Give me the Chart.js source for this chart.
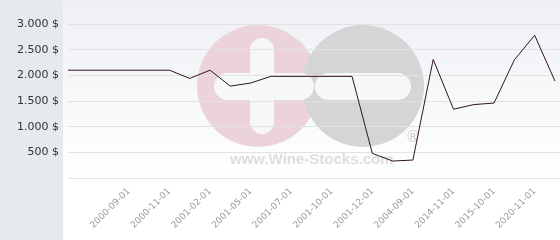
<!DOCTYPE html>
<html>
<head>
<meta charset="utf-8">
<script src="https://cdn.jsdelivr.net/npm/chart.js@4"></script>
<style>
  html, body { margin: 0; padding: 0; background: #fff; }
  #wrap { width: 560px; height: 240px; }
</style>
</head>
<body>
<div id="wrap"><canvas id="myChart" width="560" height="240"></canvas></div>
<script>
// dates shown on the x axis (only every other point carries a label)
const dates = [
  "", "", "", "2000-09-01", "", "2000-11-01", "", "2001-02-01", "", "2001-05-01",
  "", "2001-07-01", "", "2001-10-01", "", "2001-12-01", "", "2004-09-01", "", "2014-11-01",
  "", "2015-10-01", "", "2020-11-01", ""
];
const prices = [
  2100, 2100, 2100, 2100, 2100, 2100, 1940, 2100, 1790, 1850,
  1980, 1980, 1980, 1980, 1980, 480, 330, 350, 2310, 1340,
  1430, 1460, 2300, 2780, 1890
];
const yTicks = [0, 500, 1000, 1500, 2000, 2500, 3000];

const fmt = (v) => {
  if (v === 0) return "";
  const s = String(v);
  return (s.length > 3 ? s.slice(0, -3) + "." + s.slice(-3) : s) + " $";
};

const background = {
  id: "background",
  beforeDraw(chart) {
    const { ctx, width, height, chartArea } = chart;
    ctx.save();
    const g = ctx.createLinearGradient(0, 0, 0, chartArea.bottom);
    g.addColorStop(0, "#eef0f4");
    g.addColorStop(1, "#ffffff");
    ctx.fillStyle = g;
    ctx.fillRect(0, 0, width, height);
    ctx.fillStyle = "#e6eaed";
    ctx.fillRect(0, 0, 63, height);

    // watermark
    const cy = 86;
    ctx.fillStyle = "#ebd3d9";
    ctx.beginPath(); ctx.arc(258, cy, 61, 0, Math.PI * 2); ctx.fill();
    ctx.fillStyle = "#d5d5d7";
    ctx.beginPath(); ctx.arc(363, cy, 61, 0, Math.PI * 2); ctx.fill();
    ctx.fillStyle = "#f6f7f9";
    const bar = (x, y, w, h) => {
      const r = Math.min(w, h) / 2;
      ctx.beginPath();
      ctx.roundRect(x, y, w, h, r);
      ctx.fill();
    };
    bar(214, cy - 13, 100, 27);
    bar(250, 38, 24, 96);
    bar(315, cy - 13, 96, 27);
    ctx.fillStyle = "#dedede";
    ctx.font = "bold 15px 'Liberation Sans', Arial, sans-serif";
    ctx.textBaseline = "alphabetic";
    ctx.textAlign = "left";
    ctx.fillText("www.Wine-Stocks.com", 230, 164);
    ctx.fillStyle = "#d0d0d0";
    ctx.font = "15px 'DejaVu Sans', sans-serif";
    ctx.textAlign = "center";
    ctx.textBaseline = "middle";
    ctx.fillText("\u00ae", 413, 138);
    ctx.restore();
  }
};

const myChartUi = document.querySelector("#myChart");
const chart = new Chart(myChartUi, {
  type: "line",
  data: {
    datasets: [
      {
        data: prices.map((p, i) => ({ x: i, y: p })),
        borderColor: "#32141f",
        borderWidth: 1,
        pointRadius: 0,
        tension: 0,
        fill: false,
      },
    ],
  },
  options: {
    responsive: false,
    animation: false,
    events: [],
    layout: { padding: { top: 24, right: 0, left: 0, bottom: 0 }, autoPadding: false },
    plugins: { legend: { display: false }, tooltip: { enabled: false } },
    scales: {
      x: {
        type: "linear",
        min: 0,
        max: 24.25,
        grid: { display: false, drawTicks: false },
        border: { display: false },
        afterBuildTicks: (scale) => {
          scale.ticks = dates
            .map((d, i) => ({ value: i }))
            .filter((t) => dates[t.value] !== "");
        },
        afterFit: (scale) => { scale.height = 62; },
        ticks: {
          autoSkip: false,
          maxRotation: 45,
          minRotation: 45,
          padding: 8,
          color: "#9a9a9a",
          font: { family: "'DejaVu Sans'", size: 9 },
          callback: (v) => dates[v] || "",
        },
      },
      y: {
        min: 0,
        max: 3000,
        afterBuildTicks: (scale) => {
          scale.ticks = yTicks.map((v) => ({ value: v }));
        },
        afterFit: (scale) => { scale.width = 68; },
        grid: { color: "#e2e2e2", drawTicks: false },
        border: { display: false },
        ticks: {
          padding: 9,
          color: "#333333",
          font: { family: "'DejaVu Sans'", size: 11 },
          callback: (v) => fmt(v),
        },
      },
    },
  },
  plugins: [background],
});
</script>
</body>
</html>
